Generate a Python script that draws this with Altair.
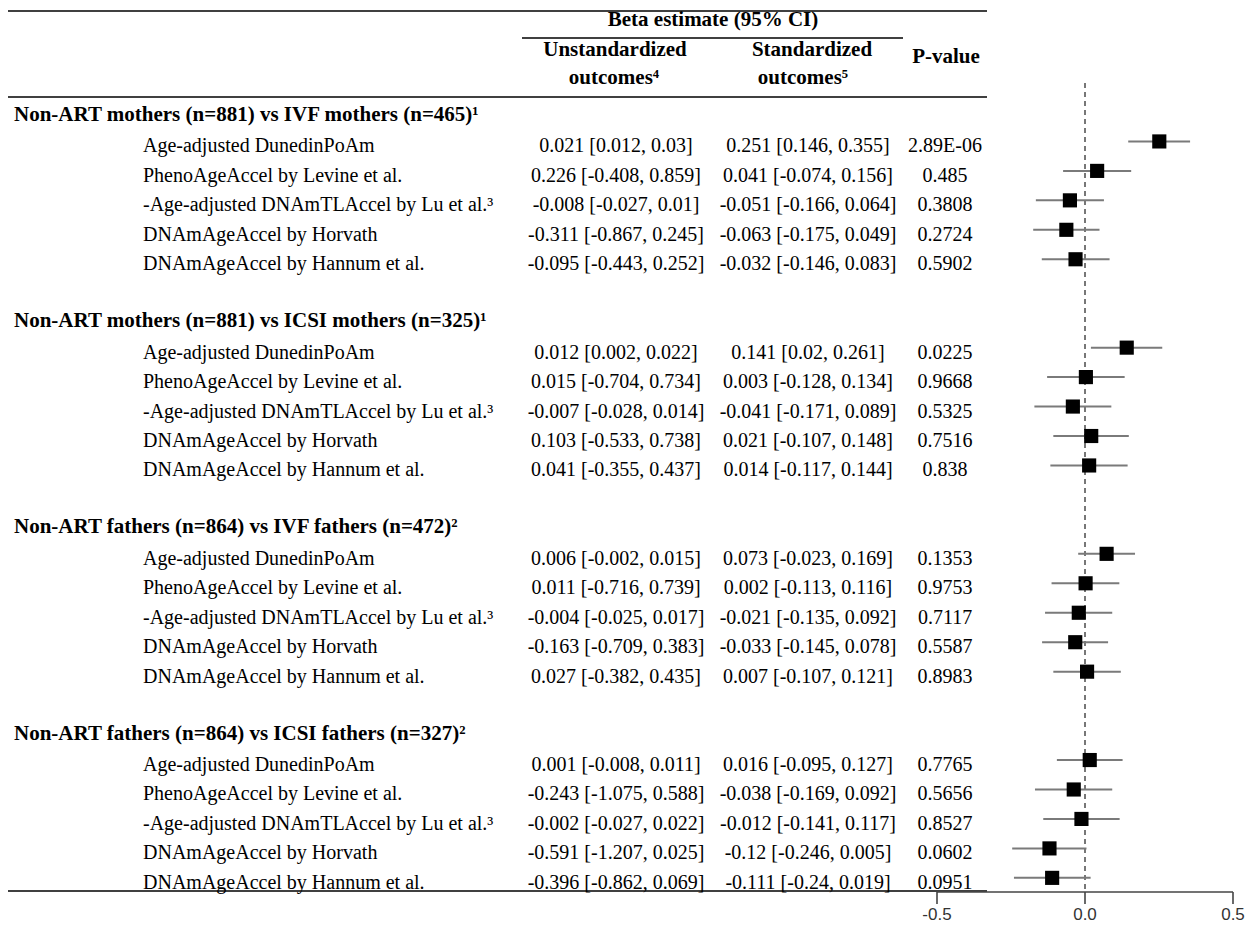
import altair as alt
import pandas as pd

# ---------------- data ----------------
group_titles = [
    "Non-ART mothers (n=881) vs IVF mothers (n=465)¹",
    "Non-ART mothers (n=881) vs ICSI mothers (n=325)¹",
    "Non-ART fathers (n=864) vs IVF fathers (n=472)²",
    "Non-ART fathers (n=864) vs ICSI fathers (n=327)²",
]
outcome_labels = [
    "Age-adjusted DunedinPoAm",
    "PhenoAgeAccel by Levine et al.",
    "-Age-adjusted DNAmTLAccel by Lu et al.³",
    "DNAmAgeAccel by Horvath",
    "DNAmAgeAccel by Hannum et al.",
]
unstd_est = [0.021, 0.226, -0.008, -0.311, -0.095,
             0.012, 0.015, -0.007, 0.103, 0.041,
             0.006, 0.011, -0.004, -0.163, 0.027,
             0.001, -0.243, -0.002, -0.591, -0.396]
unstd_lo = [0.012, -0.408, -0.027, -0.867, -0.443,
            0.002, -0.704, -0.028, -0.533, -0.355,
            -0.002, -0.716, -0.025, -0.709, -0.382,
            -0.008, -1.075, -0.027, -1.207, -0.862]
unstd_hi = [0.03, 0.859, 0.01, 0.245, 0.252,
            0.022, 0.734, 0.014, 0.738, 0.437,
            0.015, 0.739, 0.017, 0.383, 0.435,
            0.011, 0.588, 0.022, 0.025, 0.069]
std_est = [0.251, 0.041, -0.051, -0.063, -0.032,
           0.141, 0.003, -0.041, 0.021, 0.014,
           0.073, 0.002, -0.021, -0.033, 0.007,
           0.016, -0.038, -0.012, -0.12, -0.111]
std_lo = [0.146, -0.074, -0.166, -0.175, -0.146,
          0.02, -0.128, -0.171, -0.107, -0.117,
          -0.023, -0.113, -0.135, -0.145, -0.107,
          -0.095, -0.169, -0.141, -0.246, -0.24]
std_hi = [0.355, 0.156, 0.064, 0.049, 0.083,
          0.261, 0.134, 0.089, 0.148, 0.144,
          0.169, 0.116, 0.092, 0.078, 0.121,
          0.127, 0.092, 0.117, 0.005, 0.019]
p_values = ["2.89E-06", "0.485", "0.3808", "0.2724", "0.5902",
            "0.0225", "0.9668", "0.5325", "0.7516", "0.838",
            "0.1353", "0.9753", "0.7117", "0.5587", "0.8983",
            "0.7765", "0.5656", "0.8527", "0.0602", "0.0951"]
tick_values = [-0.5, 0.0, 0.5]
tick_labels = ["-0.5", "0.0", "0.5"]
null_effect = [0.0]

# ---------------- tables ----------------
rows = []
for i in range(20):
    g, k = divmod(i, 5)
    rows.append({
        "slot": g * 7 + k + 1,
        "label": outcome_labels[k],
        "unstd": f"{unstd_est[i]} [{unstd_lo[i]}, {unstd_hi[i]}]",
        "std": f"{std_est[i]} [{std_lo[i]}, {std_hi[i]}]",
        "p": p_values[i],
        "est": std_est[i],
        "lo": std_lo[i],
        "hi": std_hi[i],
    })
df = pd.DataFrame(rows)
df_groups = pd.DataFrame({"slot": [g * 7 for g in range(4)], "title": group_titles})
df_zero = pd.DataFrame({"v": null_effect})
df_axis = pd.DataFrame({"a": [min(tick_values)], "b": [max(tick_values)]})
df_ticks = pd.DataFrame({"v": tick_values, "lab": tick_labels})

SERIF = "Liberation Serif"
FS = 20
FSB = 21
PLOT_W = 1238
PLOT_H = 884
PX_PER_UNIT = 296.0
ZERO_PX = 1077.0
y_scale = alt.Scale(domain=[-3.53, 26.48], reverse=True, nice=False, zero=False)
x_scale = alt.Scale(domain=[-ZERO_PX / PX_PER_UNIT, (PLOT_W - ZERO_PX) / PX_PER_UNIT],
                    nice=False, zero=False)
Y = alt.Y("slot:Q", scale=y_scale, axis=None)


def col_text(field, xpx, align="center"):
    return alt.Chart(df).mark_text(
        font=SERIF, fontSize=FS, align=align, baseline="middle", dy=5, color="black"
    ).encode(x=alt.value(xpx), y=Y, text=f"{field}:N")


group_layer = alt.Chart(df_groups).mark_text(
    font=SERIF, fontSize=FSB, fontWeight="bold", align="left", baseline="middle", dy=3, color="black"
).encode(x=alt.value(6), y=Y, text="title:N")


def head_text(txt, xpx, ypx, size=FSB):
    return alt.Chart(pd.DataFrame({"t": [txt]})).mark_text(
        font=SERIF, fontSize=size, fontWeight="bold", align="center", baseline="middle", color="black"
    ).encode(x=alt.value(xpx), y=alt.value(ypx), text="t:N")


def hline(x1, x2, ypx):
    return alt.Chart(pd.DataFrame({"k": [0]})).mark_rule(color="black", strokeWidth=1.6).encode(
        x=alt.value(x1), x2=alt.value(x2), y=alt.value(ypx)
    )


ci = alt.Chart(df).mark_rule(color="#7a7a7a", strokeWidth=2).encode(
    x=alt.X("lo:Q", scale=x_scale, axis=None), x2="hi:Q", y=Y
)
squares = alt.Chart(df).mark_square(size=200, color="black", opacity=1, filled=True).encode(
    x=alt.X("est:Q", scale=x_scale, axis=None), y=Y
)
zero_line = alt.Chart(df_zero).mark_rule(color="#777", strokeWidth=2, strokeDash=[5, 4]).encode(
    x=alt.X("v:Q", scale=x_scale, axis=None), y=alt.value(75), y2=alt.value(PLOT_H)
)
axis_line = alt.Chart(df_axis).mark_rule(color="#444", strokeWidth=1.5).encode(
    x=alt.X("a:Q", scale=x_scale, axis=None), x2="b:Q", y=alt.value(PLOT_H)
)
axis_ticks = alt.Chart(df_ticks).mark_tick(
    color="#444", orient="vertical", size=12, thickness=1.6, opacity=1
).encode(
    x=alt.X("v:Q", scale=x_scale, axis=None), y=alt.value(PLOT_H + 6)
)
axis_labels = alt.Chart(df_ticks).mark_text(
    font="Liberation Sans", fontSize=17, color="#333", align="center", baseline="bottom"
).encode(x=alt.X("v:Q", scale=x_scale, axis=None), y=alt.value(PLOT_H + 32), text="lab:N")

chart = alt.layer(
    hline(0, 979, 3),
    hline(514, 895, 30),
    hline(0, 979, 89),
    hline(0, 979, 883),
    head_text("Beta estimate (95% CI)", 705, 12, 21),
    head_text("Unstandardized", 607, 42),
    head_text("Standardized", 804, 42),
    head_text("P-value", 938, 49),
    head_text("outcomes⁴", 606, 70),
    head_text("outcomes⁵", 795, 70),
    group_layer,
    col_text("label", 135, "left"),
    col_text("unstd", 608),
    col_text("std", 800),
    col_text("p", 937),
    zero_line,
    ci,
    squares,
    axis_line,
    axis_ticks,
    axis_labels,
).properties(
    width=PLOT_W, height=PLOT_H,
    autosize=alt.AutoSizeParams(type="none"),
    padding={"left": 0, "top": 0, "right": 0, "bottom": 33},
).configure_view(stroke=None)

chart.save("out.html", embed_options={"renderer": "svg", "actions": False})
